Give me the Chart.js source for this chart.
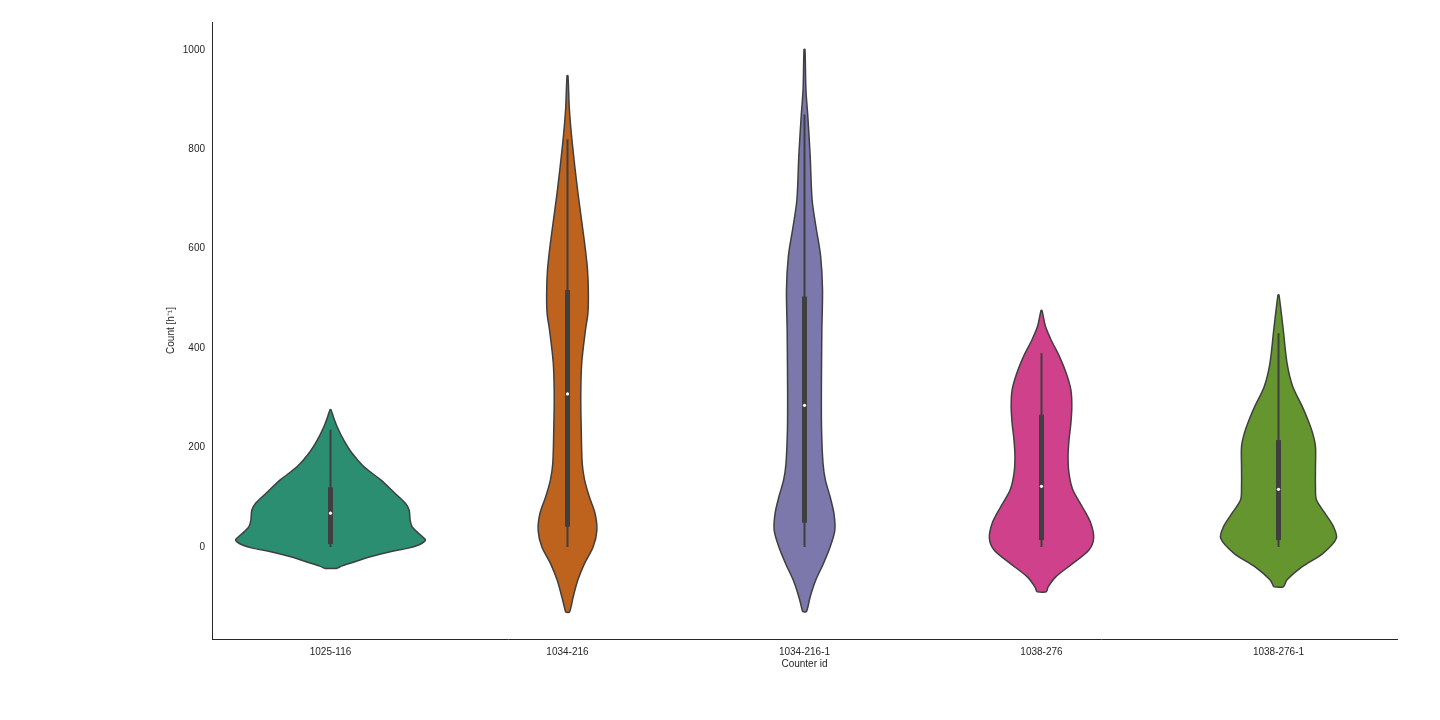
<!DOCTYPE html>
<html>
<head>
<meta charset="utf-8">
<title>Counts per counter</title>
<script src="https://cdn.jsdelivr.net/npm/chart.js@4.4.0/dist/chart.umd.min.js"></script>
<style>
  html, body { margin: 0; padding: 0; background: #fff; }
  #wrap { width: 1440px; height: 720px; }
</style>
</head>
<body>
<div id="wrap"><canvas id="violinChart" width="1440" height="720"></canvas></div>
<script>
// Counters on the x axis
var categories = ['1025-116', '1034-216', '1034-216-1', '1038-276', '1038-276-1'];

// Density profiles: count level and relative density (1 = widest violin)
var levels1025_116  = [-43, -38, -30, -19.5, -9.4, -2.7, 4, 10.7, 15, 20.7, 31, 41, 54, 74, 88, 108, 135, 162, 188, 215, 242, 262, 276];
var density1025_116 = [0.06, 0.12, 0.25, 0.42, 0.63, 0.81, 0.93, 0.99, 1.0, 0.97, 0.91, 0.86, 0.84, 0.83, 0.79, 0.68, 0.53, 0.35, 0.23, 0.14, 0.07, 0.03, 0.005];

var levels1034_216  = [-131, -100, -66, -33, 0, 34, 68, 101, 135, 169, 236, 303, 370, 437, 470, 511, 560, 612, 712, 813, 880, 948];
var density1034_216 = [0.02, 0.06, 0.11, 0.18, 0.27, 0.31, 0.29, 0.23, 0.18, 0.155, 0.145, 0.14, 0.15, 0.19, 0.215, 0.22, 0.21, 0.18, 0.11, 0.05, 0.02, 0.005];

var levels1034_216_1  = [-130, -100, -66, -33, 0, 34, 68, 101, 135, 169, 236, 303, 370, 437, 518, 585, 645, 699, 786, 866, 920, 1001];
var density1034_216_1 = [0.02, 0.06, 0.12, 0.2, 0.27, 0.32, 0.31, 0.27, 0.22, 0.195, 0.18, 0.178, 0.18, 0.183, 0.19, 0.17, 0.12, 0.08, 0.06, 0.035, 0.015, 0.005];

var levels1038_276  = [-90, -80, -60, -33, -6, 17.5, 48, 81, 115, 148, 182, 215, 249, 283, 316, 350, 383, 417, 445, 476];
var density1038_276 = [0.05, 0.07, 0.15, 0.33, 0.5, 0.55, 0.52, 0.43, 0.33, 0.29, 0.28, 0.29, 0.31, 0.32, 0.31, 0.26, 0.19, 0.1, 0.04, 0.005];

var levels1038_276_1  = [-80, -66, -39.5, -12.7, 17.5, 41, 68, 95, 121.5, 162, 202, 229, 256, 283, 323, 370, 437, 507];
var density1038_276_1 = [0.05, 0.09, 0.25, 0.47, 0.61, 0.58, 0.49, 0.4, 0.39, 0.39, 0.39, 0.36, 0.31, 0.25, 0.15, 0.09, 0.05, 0.005];

// Inner box statistics
var whiskerLow  = [0, 0, 0, 0, 0];
var quartile1   = [6, 41, 49, 14, 14];
var medians     = [68, 308, 285, 122, 116];
var quartile3   = [120, 517, 504, 266, 215];
var whiskerHigh = [236, 820, 870, 390, 430];

var yTicks = [0, 200, 400, 600, 800, 1000];

var violinColors = ['#2b8e70', '#be631d', '#7c78ab', '#cf418a', '#65952f'];
var darkGray = '#3f3f3f';
var halfWidth = 0.4; // widest violin covers 0.8 of a category

var profiles = [
    [levels1025_116, density1025_116],
    [levels1034_216, density1034_216],
    [levels1034_216_1, density1034_216_1],
    [levels1038_276, density1038_276],
    [levels1038_276_1, density1038_276_1]
];

// Build the closed outline of one violin
function violinOutline(index, levels, density) {
    var pts = [];
    for (var i = 0; i < levels.length; i++) {
        pts.push({ x: index - density[i] * halfWidth, y: levels[i] });
    }
    for (var j = levels.length - 1; j >= 0; j--) {
        pts.push({ x: index + density[j] * halfWidth, y: levels[j] });
    }
    pts.push(pts[0]);
    return pts;
}

var datasets = [];

profiles.forEach(function (p, i) {
    datasets.push({
        data: violinOutline(i, p[0], p[1]),
        fill: 'shape',
        backgroundColor: violinColors[i],
        borderColor: darkGray,
        borderWidth: 1.5,
        tension: 0.3,
        pointRadius: 0,
        order: 3
    });
    // whisker
    datasets.push({
        data: [{ x: i, y: whiskerLow[i] }, { x: i, y: whiskerHigh[i] }],
        borderColor: darkGray,
        borderWidth: 2,
        borderCapStyle: 'butt',
        pointRadius: 0,
        fill: false,
        order: 2
    });
    // box
    datasets.push({
        data: [{ x: i, y: quartile1[i] }, { x: i, y: quartile3[i] }],
        borderColor: darkGray,
        borderWidth: 5,
        borderCapStyle: 'butt',
        pointRadius: 0,
        fill: false,
        order: 1
    });
});

// median dots
datasets.push({
    data: medians.map(function (m, i) { return { x: i, y: m }; }),
    showLine: false,
    pointRadius: 1.6,
    pointBackgroundColor: '#ffffff',
    pointBorderWidth: 0,
    order: 0
});

var tickFont = { family: "'Liberation Sans', Arial, sans-serif", size: 10 };

new Chart(document.getElementById('violinChart'), {
    type: 'line',
    data: { datasets: datasets },
    options: {
        responsive: false,
        animation: false,
        events: [],
        layout: { padding: { top: 22, right: 43, left: 0, bottom: 0 } },
        plugins: {
            legend: { display: false },
            tooltip: { enabled: false }
        },
        scales: {
            x: {
                type: 'linear',
                min: -0.5,
                max: 4.5,
                afterBuildTicks: function (scale) {
                    scale.ticks = categories.map(function (c, i) { return { value: i }; });
                },
                afterFit: function (scale) { scale.height = 81; },
                grid: { display: false, drawTicks: false },
                border: { display: true, color: '#262626', width: 1 },
                ticks: {
                    padding: 7,
                    color: '#262626',
                    font: tickFont,
                    maxRotation: 0,
                    autoSkip: false,
                    callback: function (value) { return categories[value]; }
                },
                title: {
                    display: true,
                    text: 'Counter id',
                    color: '#262626',
                    font: tickFont,
                    padding: { top: 0, bottom: 50 }
                }
            },
            y: {
                type: 'linear',
                min: -185,
                max: 1056,
                afterBuildTicks: function (scale) {
                    scale.ticks = yTicks.map(function (v) { return { value: v }; });
                },
                afterFit: function (scale) { scale.width = 212; },
                grid: { display: false, drawTicks: false },
                border: { display: true, color: '#262626', width: 1 },
                ticks: {
                    padding: 7,
                    color: '#262626',
                    font: tickFont,
                    callback: function (value) { return String(value); }
                },
                title: {
                    display: true,
                    text: 'Count [h\u207B\u00B9]',
                    color: '#262626',
                    font: tickFont,
                    padding: { top: 165, bottom: 0 }
                }
            }
        }
    }
});
</script>
</body>
</html>
